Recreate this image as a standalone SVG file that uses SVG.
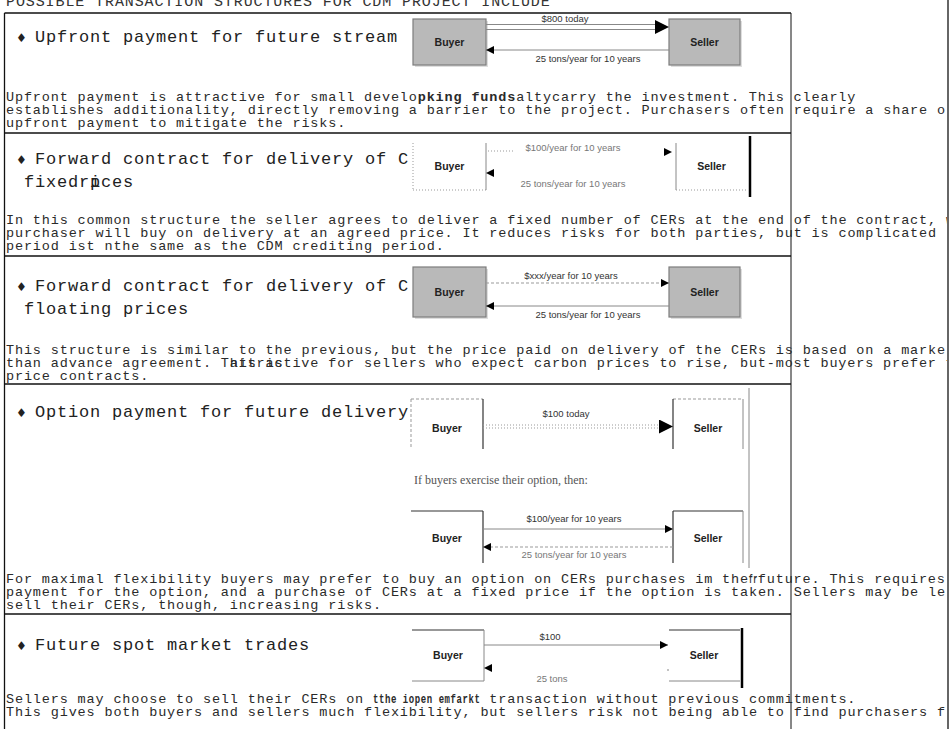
<svg xmlns="http://www.w3.org/2000/svg" width="951" height="729" viewBox="0 0 951 729">
  <style>
    .t  { font-family: "Liberation Mono", "Courier New", monospace; font-size: 15px; letter-spacing: 0.9px; fill: #333; }
    .h  { font-family: "Liberation Mono", "Courier New", monospace; font-size: 17px; letter-spacing: 0.8px; fill: #222; }
    .b  { font-family: "Liberation Mono", "Courier New", monospace; font-size: 13.5px; letter-spacing: 0.85px; fill: #2a2a2a; }
    .g  { font-weight: bold; }
    .bul { font-family: "DejaVu Sans", sans-serif; font-size: 12px; fill: #222; }
    .nm { font-family: "Liberation Sans", Arial, sans-serif; font-size: 10.5px; font-weight: bold; fill: #222; text-anchor: middle; }
    .lb { font-family: "Liberation Sans", Arial, sans-serif; font-size: 9.5px; fill: #333; text-anchor: middle; }
    .fd { fill: #777; }
    .note { font-family: "Liberation Serif", "Times New Roman", serif; font-size: 12px; fill: #555; }
    .rule { stroke: #111; stroke-width: 1.3; fill: none; }
    .gbox { fill: #b9b9b9; stroke: #7d7d7d; stroke-width: 1.2; }
    .shd { fill: #dedede; }
    .ln { stroke: #888; stroke-width: 1; fill: none; }
    .dk { stroke: #333; stroke-width: 1.2; fill: none; }
    .dot { stroke: #999; stroke-width: 1; stroke-dasharray: 1 2; fill: none; }
    .dash { stroke: #999; stroke-width: 1; stroke-dasharray: 3 2; fill: none; }
  </style>
  <defs>
    <marker id="ah" viewBox="0 0 10 10" refX="10" refY="5" markerWidth="9" markerHeight="8" markerUnits="userSpaceOnUse" orient="auto">
      <path d="M0,0 L10,5 L0,10 z" fill="#000"/>
    </marker>
    <marker id="ahBig" viewBox="0 0 10 10" refX="10" refY="5" markerWidth="17" markerHeight="14" markerUnits="userSpaceOnUse" orient="auto">
      <path d="M0,0 L10,5 L0,10 z" fill="#000"/>
    </marker>
    <clipPath id="page">
      <rect x="0" y="0" width="947" height="729"/>
    </clipPath>
  </defs>

  <rect width="951" height="729" fill="#fff"/>

  <!-- page title, partly above the top edge -->
  <text class="t" x="6" y="6">POSSIBLE TRANSACTION  STRUCTURES FOR CDM  PROJECT INCLUDE</text>

  <!-- frame and section rules -->
  <g id="frame">
    <line class="rule" x1="4.5" y1="13" x2="4.5" y2="729"/>
    <line class="rule" x1="4.5" y1="13" x2="791" y2="13"/>
    <line x1="791" y1="13" x2="791" y2="729" stroke="#111" stroke-width="1"/>
    <line x1="948" y1="0" x2="948" y2="729" stroke="#666" stroke-width="2"/>
    <line class="rule" x1="4.5" y1="133" x2="791" y2="133"/>
    <line class="rule" x1="4.5" y1="256" x2="791" y2="256"/>
    <line class="rule" x1="4.5" y1="384" x2="791" y2="384"/>
    <line class="rule" x1="4.5" y1="614" x2="791" y2="614"/>
  </g>

  <!-- section headings -->
  <g id="headings">
    <text class="bul" x="16" y="42">♦</text>
    <text class="h" x="35" y="42">Upfront payment for future stream</text>
    <text class="bul" x="16" y="164">♦</text>
    <text class="h" x="35" y="164">Forward contract for delivery of C</text>
    <text class="h" x="24" y="187">fixedrices</text>
    <text class="h" x="90" y="187">p</text>
    <text class="bul" x="16" y="291">♦</text>
    <text class="h" x="35" y="291">Forward contract for delivery of C</text>
    <text class="h" x="24" y="314">floating prices</text>
    <text class="bul" x="16" y="417">♦</text>
    <text class="h" x="35" y="417">Option payment for future delivery</text>
    <text class="bul" x="16" y="650">♦</text>
    <text class="h" x="35" y="650">Future spot market trades</text>
  </g>

  <!-- body paragraphs (monospace columns: x = 6 + col * 8.95) -->
  <g id="body" clip-path="url(#page)">
    <text class="b" x="6" y="101">Upfront payment is attractive for small develo</text>
    <text class="b g" x="417.7" y="101">pking funds</text>
    <text class="b" x="516.15" y="101">altycarry the investment. This</text>
    <text class="b" x="793.6" y="101">clearly</text>
    <text class="b" x="6" y="114">establishes additionality, directly removing a barrier to the project. Purchasers often require a share o</text>
    <text class="b" x="6" y="127">upfront payment to mitigate the risks.</text>

    <text class="b" x="6" y="224">In this common structure the seller agrees to deliver a fixed number of CERs at the end of the contract, w</text>
    <text class="b" x="6" y="237">purchaser will buy on delivery at an agreed price. It reduces risks for both parties, but is complicated</text>
    <text class="b" x="6" y="250">period ist nthe same as the CDM crediting period.</text>

    <text class="b" x="6" y="354">This structure is similar to the previous, but the price paid on delivery of the CERs is based on a marke</text>
    <text class="b" x="6" y="367">than advance agreement.</text>
    <text class="b" x="220.8" y="367">This is</text>
    <text class="b" x="229.75" y="367">attractive</text>
    <text class="b" x="328.2" y="367">for sellers who expect carbon prices to rise, but</text>
    <text class="b" x="766.75" y="367">-most buyers prefer f</text>
    <text class="b" x="6" y="380">price contracts.</text>

    <text class="b" x="6" y="583">For maximal flexibility buyers may prefer to buy an option on CERs purchases im the</text>
    <text class="b g" x="748.8" y="583" textLength="8.95" lengthAdjust="spacingAndGlyphs">fr</text>
    <text class="b" x="757.8" y="583">future. This requires</text>
    <text class="b" x="6" y="596">payment for the option, and a purchase of CERs at a fixed price if the option is taken. Sellers may be le</text>
    <text class="b" x="6" y="609">sell their CERs, though, increasing risks.</text>

    <text class="b" x="6" y="703">Sellers may choose to sell their CERs on</text>
    <text class="b g" x="373" y="703" textLength="107.4" lengthAdjust="spacingAndGlyphs">tthe iopen emfarkt</text>
    <text class="b" x="489.3" y="703">transaction without previous commitments.</text>
    <text class="b" x="6" y="716">This gives both buyers and sellers much flexibility, but sellers risk not being able to find purchasers f</text>
  </g>

  <!-- diagram 1: upfront payment -->
  <g id="d1-buyer">
    <rect class="shd" x="415" y="21" width="73" height="46"/>
    <rect class="gbox" x="413" y="19" width="73" height="46"/>
    <text class="nm" x="449.5" y="46">Buyer</text>
  </g>
  <g id="d1-seller">
    <rect class="shd" x="671" y="21" width="71" height="46"/>
    <rect class="gbox" x="669" y="19" width="71" height="46"/>
    <text class="nm" x="704.5" y="46">Seller</text>
  </g>

  <!-- diagram 2: fixed-price forward contract -->
  <g id="d2-buyer">
    <line class="dot" x1="413" y1="143" x2="413" y2="190"/>
    <line class="dot" x1="413" y1="190" x2="486" y2="190"/>
    <line class="ln" x1="486" y1="143" x2="486" y2="190"/>
    <text class="nm" x="449.5" y="170">Buyer</text>
  </g>
  <g id="d2-seller">
    <line class="ln" x1="676" y1="143" x2="676" y2="190"/>
    <line class="dot" x1="676" y1="190" x2="747" y2="190"/>
    <line x1="750" y1="136" x2="750" y2="197" stroke="#000" stroke-width="2.5"/>
    <text class="nm" x="711.5" y="170">Seller</text>
  </g>

  <!-- diagram 3: floating-price forward contract -->
  <g id="d3-buyer">
    <rect class="shd" x="415" y="269" width="73" height="50"/>
    <rect class="gbox" x="413" y="267" width="73" height="50"/>
    <text class="nm" x="449.5" y="296">Buyer</text>
  </g>
  <g id="d3-seller">
    <rect class="shd" x="671" y="269" width="71" height="50"/>
    <rect class="gbox" x="669" y="267" width="71" height="50"/>
    <text class="nm" x="704.5" y="296">Seller</text>
  </g>

  <!-- diagram 4: option payment, then exercise -->
  <g id="d4-buyer">
    <line class="dash" x1="411" y1="399" x2="483" y2="399"/>
    <line class="dash" x1="411" y1="399" x2="411" y2="449"/>
    <line class="dk" x1="483" y1="399" x2="483" y2="449"/>
    <text class="nm" x="447" y="432">Buyer</text>
  </g>
  <g id="d4-seller">
    <line class="dash" x1="673" y1="399" x2="743" y2="399"/>
    <line class="dk" x1="673" y1="399" x2="673" y2="449"/>
    <line class="ln" x1="743" y1="399" x2="743" y2="449"/>
    <text class="nm" x="708" y="432">Seller</text>
  </g>
  <line x1="749" y1="388" x2="749" y2="568" stroke="#888" stroke-width="1"/>
  <text class="note" x="414" y="484">If buyers exercise their option, then:</text>
  <g id="d4-buyer-2">
    <line class="dk" x1="411" y1="511" x2="483" y2="511"/>
    <line class="dk" x1="483" y1="511" x2="483" y2="563"/>
    <text class="nm" x="447" y="542">Buyer</text>
  </g>
  <g id="d4-seller-2">
    <line class="dk" x1="673" y1="511" x2="743" y2="511"/>
    <line class="dk" x1="673" y1="511" x2="673" y2="563"/>
    <line class="ln" x1="743" y1="511" x2="743" y2="563"/>
    <text class="nm" x="708" y="542">Seller</text>
  </g>

  <!-- diagram 5: spot trades -->
  <g id="d5-buyer">
    <line class="dk" x1="412" y1="630" x2="484" y2="630"/>
    <line class="ln" x1="412" y1="681" x2="484" y2="681"/>
    <line class="ln" x1="484" y1="630" x2="484" y2="681"/>
    <text class="nm" x="448" y="659">Buyer</text>
  </g>
  <g id="d5-seller">
    <line class="dk" x1="669" y1="630" x2="740" y2="630"/>
    <line class="ln" x1="669" y1="681" x2="740" y2="681"/>
    <line x1="742" y1="628" x2="742" y2="688" stroke="#000" stroke-width="2.5"/>
    <text class="nm" x="704" y="659">Seller</text>
  </g>

  <!-- flows between buyer and seller -->
  <g id="connectors">
    <!-- 1 -->
    <line class="ln" x1="486" y1="24.5" x2="655" y2="24.5"/>
    <line class="ln" x1="486" y1="29.5" x2="655" y2="29.5"/>
    <line x1="486" y1="27" x2="669" y2="27" stroke="none" marker-end="url(#ahBig)"/>
    <text class="lb" x="565" y="22">$800 today</text>
    <line class="ln" x1="669" y1="50" x2="486" y2="50" marker-end="url(#ah)"/>
    <text class="lb" x="588" y="62">25 tons/year for 10 years</text>
    <!-- 2 -->
    <line class="dot" x1="488" y1="151" x2="515" y2="151"/>
    <text class="lb fd" x="573" y="151">$100/year for 10 years</text>
    <line x1="662" y1="152" x2="672" y2="152" stroke="none" marker-end="url(#ah)"/>
    <line x1="496" y1="173" x2="486" y2="173" stroke="none" marker-end="url(#ah)"/>
    <text class="lb fd" x="573" y="187">25 tons/year for 10 years</text>
    <!-- 3 -->
    <line class="dash" x1="486" y1="283" x2="669" y2="283" marker-end="url(#ah)"/>
    <text class="lb" x="571" y="279">$xxx/year for 10 years</text>
    <line class="ln" x1="669" y1="306" x2="486" y2="306" stroke="#666" marker-end="url(#ah)"/>
    <text class="lb" x="588" y="318">25 tons/year for 10 years</text>
    <!-- 4 -->
    <line class="dot" x1="483" y1="425" x2="660" y2="425"/>
    <line class="dot" x1="483" y1="428" x2="660" y2="428"/>
    <line x1="483" y1="426.5" x2="673" y2="426.5" stroke="none" marker-end="url(#ahBig)"/>
    <text class="lb" x="566" y="417">$100 today</text>
    <line class="ln" x1="483" y1="529" x2="673" y2="529" marker-end="url(#ah)"/>
    <text class="lb" x="574" y="522">$100/year for 10 years</text>
    <line class="dash" x1="673" y1="547" x2="483" y2="547" marker-end="url(#ah)"/>
    <text class="lb fd" x="574" y="558">25 tons/year for 10 years</text>
    <!-- 5 -->
    <line class="ln" x1="484" y1="645" x2="668" y2="645" marker-end="url(#ah)"/>
    <text class="lb" x="550" y="640">$100</text>
    <line x1="494" y1="668" x2="484" y2="668" stroke="none" marker-end="url(#ah)"/>
    <circle cx="668" cy="670" r="0.8" fill="#777"/>
    <text class="lb fd" x="552" y="682">25 tons</text>
  </g>
</svg>
